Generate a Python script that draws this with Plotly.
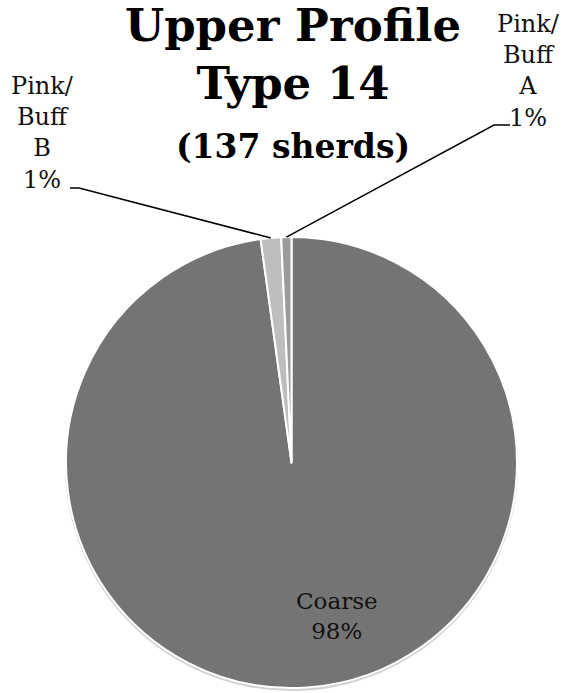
import numpy as np
import plotly.graph_objects as go

# Upper Profile Type 14 sherd counts by fabric (137 sherds in total)
labels = ["Coarse", "Pink/Buff B", "Pink/Buff A"]
label_lines = ["Coarse", "Pink/<br>Buff<br>B", "Pink/<br>Buff<br>A"]
sherds = [134, 2, 1]
colors = ["#747474", "#bebebe", "#9b9b9b"]

W, H = 571, 693
SERIF = "DejaVu Serif, Liberation Serif, serif"

# pie box in pixels
PIE_L, PIE_R, PIE_T, PIE_B = 66, 517, 237, 688
cx, cy = (PIE_L + PIE_R) / 2, (PIE_T + PIE_B) / 2
radius = (PIE_R - PIE_L) / 2

# where each label block sits (px, centre) and where its leader line starts
label_pos = {"Coarse": (337, 616), "Pink/Buff B": (43, 133), "Pink/Buff A": (528, 71)}
leader_start = {"Pink/Buff B": [(70, 188), (79, 188)], "Pink/Buff A": [(510, 125), (494, 125)]}


def px(x, y):
    return x / W, 1 - y / H


total = sum(sherds)
pct = [round(v / total * 100) for v in sherds]
# clockwise from 12 o'clock, in the same order plotly draws the slices
ends = np.cumsum(sherds) / total * 2 * np.pi
mids = ends - np.array(sherds) / total * np.pi

fig = go.Figure(
    go.Pie(
        labels=labels,
        values=sherds,
        sort=False,
        direction="clockwise",
        rotation=0,
        marker={"colors": colors, "line": {"color": "white", "width": 2}},
        textinfo="none",
        hoverinfo="label+value+percent",
        domain={"x": [PIE_L / W, PIE_R / W], "y": [1 - PIE_B / H, 1 - PIE_T / H]},
        showlegend=False,
    )
)

# soft shadow under the pie
fig.add_shape(
    type="circle",
    xref="paper", yref="paper",
    x0=(PIE_L - 1) / W, x1=(PIE_R + 1) / W,
    y0=1 - (PIE_B + 3) / H, y1=1 - (PIE_T + 1) / H,
    fillcolor="rgba(0,0,0,0.18)", line={"width": 0}, layer="below",
)

for name, lines, p, mid in zip(labels, label_lines, pct, mids):
    lx, ly = label_pos[name]
    ax, ay = px(lx, ly)
    fig.add_annotation(
        x=ax, y=ay, xref="paper", yref="paper",
        text=f"{lines}<br>{p}%", showarrow=False,
        xanchor="center", yanchor="middle", align="center",
        font={"family": SERIF, "size": 24 if name != "Coarse" else 23, "color": "#111111"},
    )
    if name in leader_start:
        ex = cx + radius * np.sin(mid)
        ey = cy - radius * np.cos(mid)
        pts = [px(*pt) for pt in leader_start[name]] + [px(ex, ey)]
        path = "M " + " L ".join(f"{x:.4f},{y:.4f}" for x, y in pts)
        fig.add_shape(
            type="path", path=path, xref="paper", yref="paper",
            line={"color": "black", "width": 1.5}, layer="above",
        )

fig.update_layout(
    width=W,
    height=H,
    margin={"l": 0, "r": 0, "t": 0, "b": 0},
    paper_bgcolor="white",
    plot_bgcolor="white",
    title={
        "text": "<b>Upper Profile<br>Type 14<br><span style='font-size:33px'>(137 sherds)</span></b>",
        "x": 293 / W, "xanchor": "center",
        "y": 0.941, "yref": "container", "yanchor": "top",
        "font": {"family": SERIF, "size": 45, "color": "black"},
    },
)

# the page body has a default 8px margin; drop it so the figure sits at 0,0
fig.write_html(
    "out.html",
    config={"displayModeBar": False},
    post_script="document.body.style.margin='0';",
)
